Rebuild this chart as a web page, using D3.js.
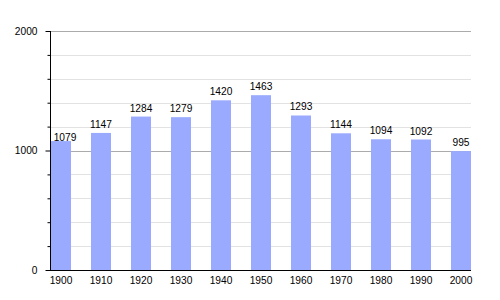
<!DOCTYPE html>
<html>
<head>
<meta charset="utf-8">
<script src="https://cdn.jsdelivr.net/npm/d3@7"></script>
<style>
  body { margin: 0; background: #fff; }
  text { font-family: "Liberation Sans", Arial, sans-serif; fill: #000; }
</style>
</head>
<body>
<div id="canvas"></div>
<script>
const years = ['1900', '1910', '1920', '1930', '1940', '1950', '1960', '1970', '1980', '1990', '2000'];
const population = [1079, 1147, 1284, 1279, 1420, 1463, 1293, 1144, 1094, 1092, 995];
const yTicks = [0, 1000, 2000];
const minorTicks = [200, 400, 600, 800, 1200, 1400, 1600, 1800];

const w = 500;
const h = 300;
const fontSize = '10.2px';

const xScale = d3.scaleBand()
  .domain(years)
  .range([41, 481])
  .paddingInner(0.5)
  .paddingOuter(0.25);

const yScale = d3.scaleLinear()
  .domain([0, 2000])
  .range([270, 31]);

const svg = d3.select('#canvas')
  .append('svg')
  .attr('width', w)
  .attr('height', h);

// minor grid
svg.selectAll('line.minor')
  .data(minorTicks)
  .enter()
  .append('line')
  .attr('class', 'minor')
  .attr('x1', 50).attr('x2', 471)
  .attr('y1', d => Math.round(yScale(d)) + 0.5)
  .attr('y2', d => Math.round(yScale(d)) + 0.5)
  .attr('stroke', '#e2e2e2');

// major grid
svg.selectAll('line.major')
  .data(yTicks.filter(d => d > 0))
  .enter()
  .append('line')
  .attr('class', 'major')
  .attr('x1', 50).attr('x2', 471)
  .attr('y1', d => Math.round(yScale(d)) + 0.5)
  .attr('y2', d => Math.round(yScale(d)) + 0.5)
  .attr('stroke', '#ababab');

svg.selectAll('rect')
  .data(population)
  .enter()
  .append('rect')
  .attr('x', (d, i) => xScale(years[i]))
  .attr('y', d => yScale(d))
  .attr('width', xScale.bandwidth())
  .attr('height', d => yScale(0) - yScale(d))
  .attr('fill', '#9aabff');

svg.selectAll('text.val')
  .data(population)
  .enter()
  .append('text')
  .attr('class', 'val')
  .attr('x', (d, i) => xScale(years[i]) + xScale.bandwidth() / 2 + (i === 0 ? 4 : 0))
  .attr('y', (d, i) => yScale(d) - (i === 0 ? 0 : 5))
  .attr('text-anchor', 'middle')
  .style('font-size', fontSize)
  .text(d => d);

// y axis
const yAxis = d3.axisLeft(yScale)
  .tickValues(yTicks)
  .tickFormat(d3.format('d'))
  .tickSize(5)
  .tickPadding(8);

const gy = svg.append('g')
  .attr('transform', 'translate(50.5, 0)')
  .call(yAxis);
gy.select('.domain').attr('stroke', '#000').attr('d', 'M0,' + yScale(2000) + 'V' + yScale(0));
gy.selectAll('text').style('font-size', fontSize).style('font-family', '"Liberation Sans", Arial, sans-serif');

svg.append('g')
  .attr('transform', 'translate(50.5, 0)')
  .call(d3.axisLeft(yScale).tickValues(minorTicks).tickSize(3).tickFormat(''))
  .select('.domain').remove();

// x axis
const xAxis = d3.axisBottom(xScale).tickSize(0).tickPadding(6);
const gx = svg.append('g')
  .attr('transform', 'translate(0, ' + (yScale(0) + 0.5) + ')')
  .call(xAxis);
gx.select('.domain').attr('d', 'M50,0H471').attr('stroke', '#000');
gx.selectAll('text').style('font-size', fontSize).style('font-family', '"Liberation Sans", Arial, sans-serif');
</script>
</body>
</html>
